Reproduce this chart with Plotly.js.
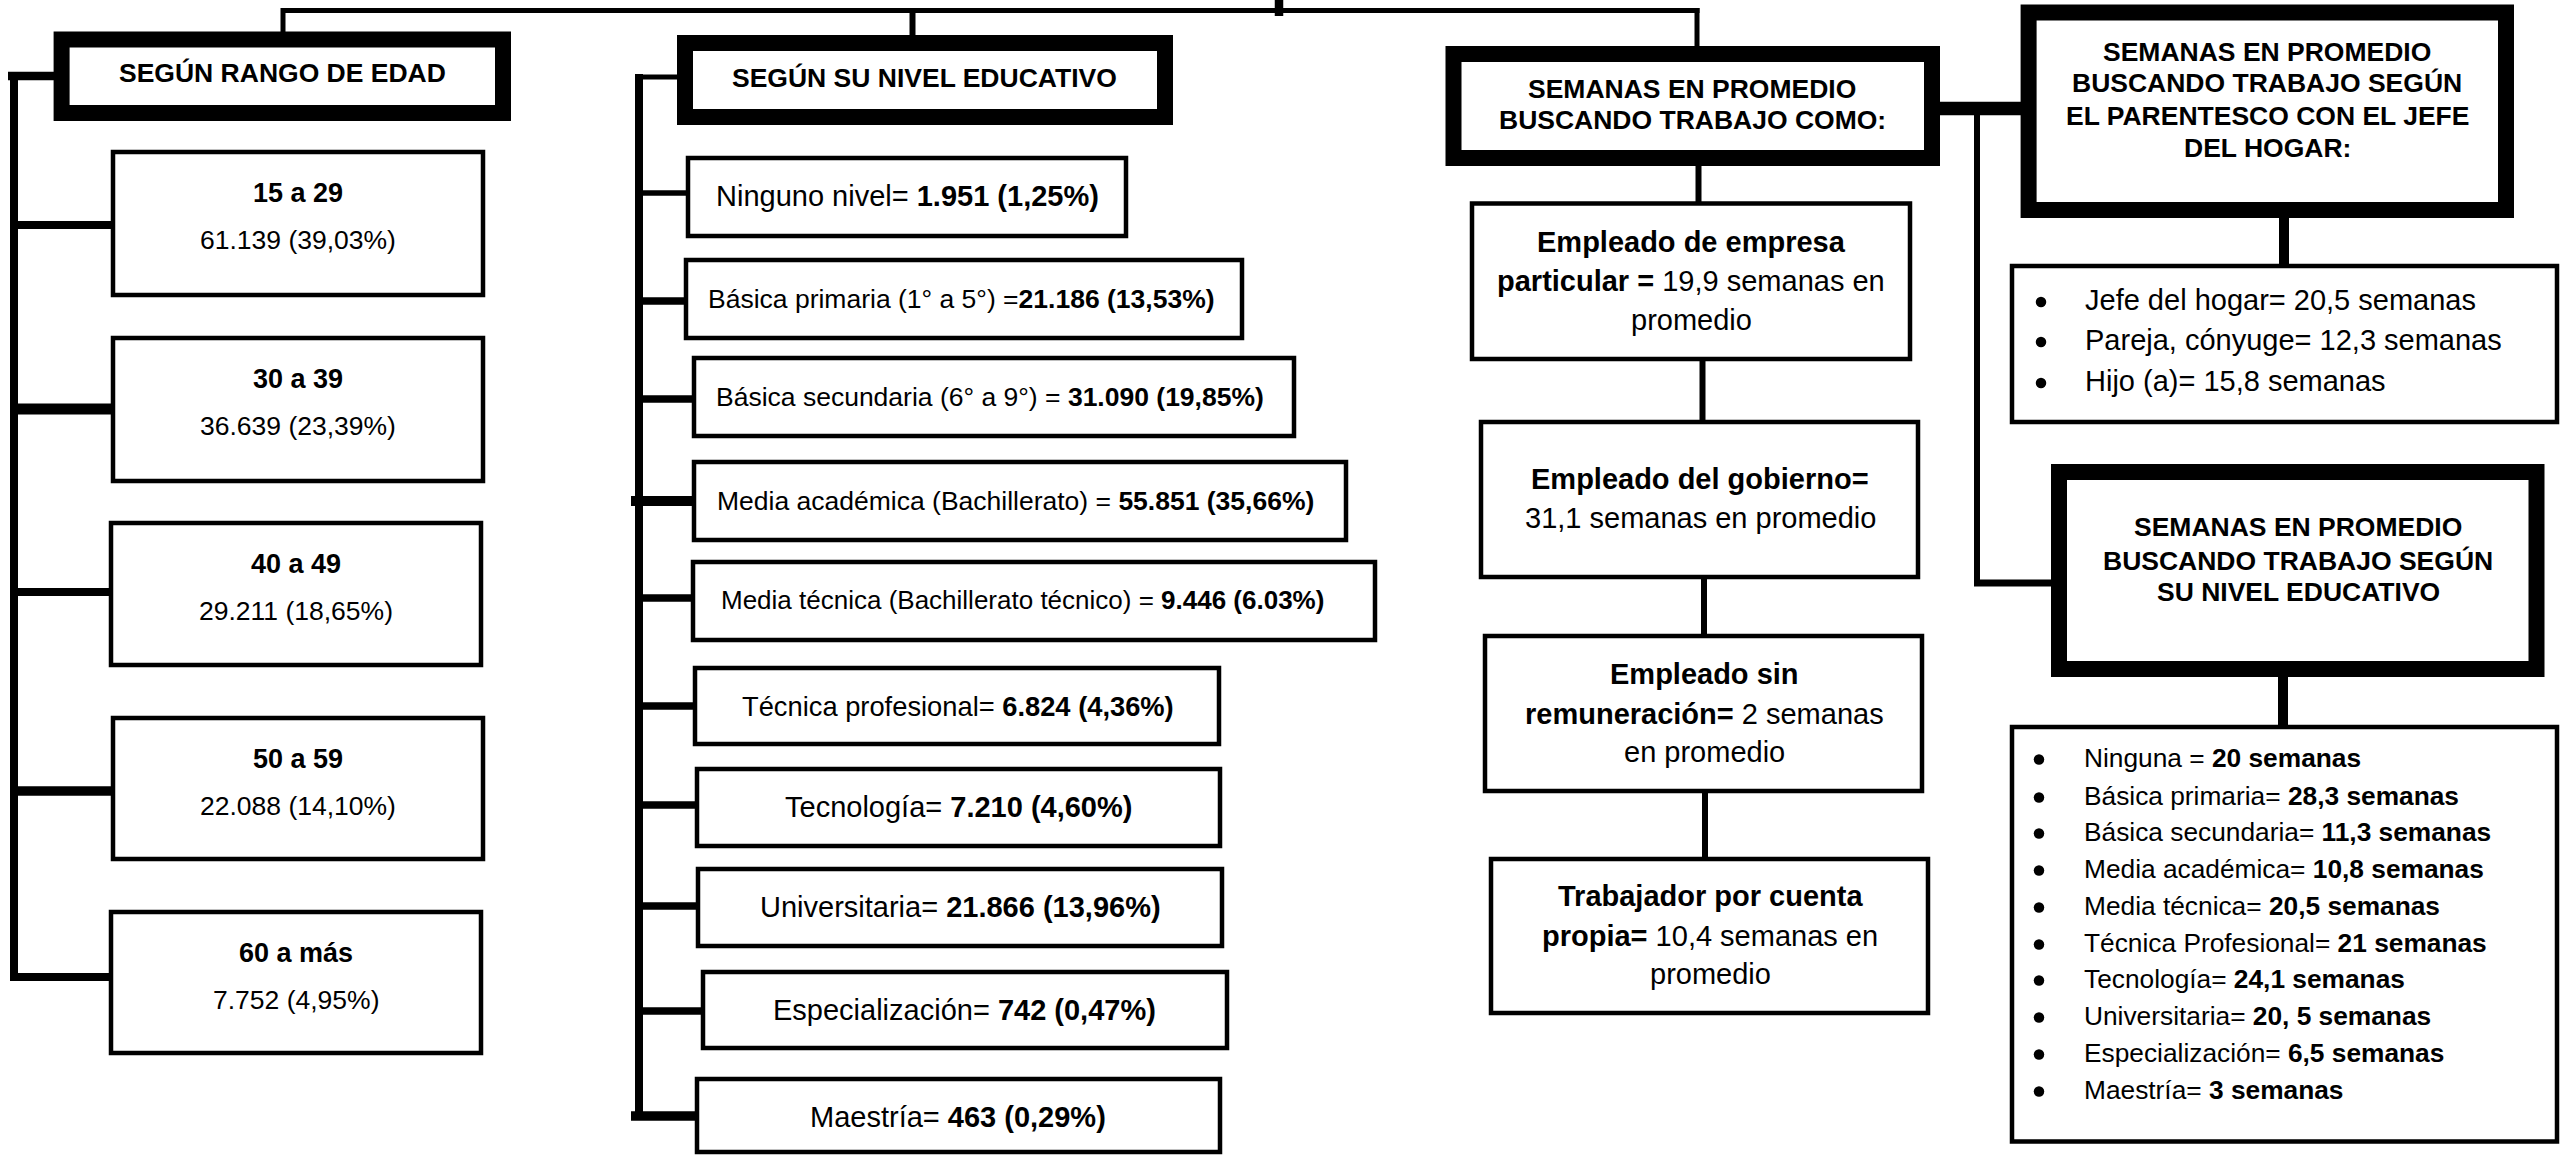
<!DOCTYPE html>
<html>
<head>
<meta charset="utf-8">
<script src="https://cdn.plot.ly/plotly-3.0.1.min.js"></script>
<style>
  html, body { margin: 0; padding: 0; background: #fff; }
  #chart { width: 2561px; height: 1156px; }
</style>
</head>
<body>
<div id="chart"></div>
<script>
// ---------------- DATA ----------------
const ageHeader = 'SEGÚN RANGO DE EDAD';
const ageRanges = ['15 a 29', '30 a 39', '40 a 49', '50 a 59', '60 a más'];
const ageCounts = ['61.139', '36.639', '29.211', '22.088', '7.752'];
const agePcts = ['39,03%', '23,39%', '18,65%', '14,10%', '4,95%'];

const eduHeader = 'SEGÚN SU NIVEL EDUCATIVO';
const eduLabels = ['Ninguno nivel= ', 'Básica primaria (1° a 5°) =', 'Básica secundaria (6° a 9°) = ',
  'Media académica (Bachillerato) = ', 'Media técnica (Bachillerato técnico) = ', 'Técnica profesional= ',
  'Tecnología= ', 'Universitaria= ', 'Especialización= ', 'Maestría= '];
const eduCounts = ['1.951', '21.186', '31.090', '55.851', '9.446', '6.824', '7.210', '21.866', '742', '463'];
const eduPcts = ['1,25%', '13,53%', '19,85%', '35,66%', '6.03%', '4,36%', '4,60%', '13,96%', '0,47%', '0,29%'];

const jobHeader = ['SEMANAS EN PROMEDIO', 'BUSCANDO TRABAJO COMO:'];
const jobWeeks = ['19,9', '31,1', '2', '10,4'];

const kinHeader = ['SEMANAS EN PROMEDIO', 'BUSCANDO TRABAJO SEGÚN', 'EL PARENTESCO CON EL JEFE', 'DEL HOGAR:'];
const kinLabels = ['Jefe del hogar= ', 'Pareja, cónyuge= ', 'Hijo (a)= '];
const kinWeeks = ['20,5', '12,3', '15,8'];

const wkEduHeader = ['SEMANAS EN PROMEDIO', 'BUSCANDO TRABAJO SEGÚN', 'SU NIVEL EDUCATIVO'];
const wkEduLabels = ['Ninguna = ', 'Básica primaria= ', 'Básica secundaria= ', 'Media académica= ',
  'Media técnica= ', 'Técnica Profesional= ', 'Tecnología= ', 'Universitaria= ', 'Especialización= ', 'Maestría= '];
const wkEduWeeks = ['20', '28,3', '11,3', '10,8', '20,5', '21', '24,1', '20, 5', '6,5', '3'];

// ---------------- LAYOUT GEOMETRY ----------------
const FONT = 'Liberation Sans, Arial, Helvetica, sans-serif';
const shapes = [];
const annotations = [];
function rect(x0, y0, x1, y1, w) {
  shapes.push({type: 'rect', xref: 'x', yref: 'y', x0, y0, x1, y1,
    line: {color: '#000', width: w}, fillcolor: 'rgba(255,255,255,0)'});
}
function seg(x0, y0, x1, y1, w) {
  shapes.push({type: 'line', xref: 'x', yref: 'y', x0, y0, x1, y1, line: {color: '#000', width: w}});
}
function txt(x, y, text, size, anchor) {
  annotations.push({x, y, xref: 'x', yref: 'y', text, showarrow: false,
    xanchor: anchor || 'center', yanchor: 'middle', align: anchor || 'center',
    font: {family: FONT, size, color: '#000'}});
}
const bulletX = [], bulletY = [];

// top connector line
seg(281, 10.5, 1699.5, 10.5, 5);
seg(1279, 0, 1279, 16, 8.5);
seg(283, 8, 283, 32, 5);
seg(912.5, 8, 912.5, 36, 6);
seg(1697, 8, 1697, 47, 5);

// ---- Age column ----
rect(61.6, 39.4, 503, 113, 16);
txt(282, 73, '<b>' + ageHeader + '</b>', 26.5);
seg(8, 76, 54, 76, 8.5);
seg(14, 72, 14, 981, 8);
const ageBox = [[113, 483, 152, 295], [113, 483, 338, 481], [111, 481, 523, 665], [113, 483, 718, 859], [111, 481, 912, 1053]];
const ageConn = [225, 409, 592, 791, 977];
const ageConnW = [8, 11, 8, 9.5, 8];
ageRanges.forEach((r, i) => {
  const b = ageBox[i];
  rect(b[0], b[2], b[1], b[3], 4.5);
  seg(10, ageConn[i], b[0], ageConn[i], ageConnW[i]);
  const cx = (b[0] + b[1]) / 2;
  txt(cx, b[2] + 41, '<b>' + r + '</b>', 27);
  txt(cx, b[2] + 88, ageCounts[i] + ' (' + agePcts[i] + ')', 26.5);
});

// ---- Education column ----
rect(685, 43, 1165, 117, 16);
txt(924, 78, '<b>' + eduHeader + '</b>', 26.5);
seg(639, 77, 677, 77, 5);
seg(639, 74, 639, 1120, 8);
const eduBox = [[688, 1126, 158, 236], [686, 1242, 260, 338], [694, 1294, 358, 436], [694, 1346, 462, 540],
  [693, 1375, 562, 640], [695, 1219, 668, 744], [697, 1220, 769, 846], [698, 1222, 869, 946],
  [703, 1227, 972, 1048], [697, 1220, 1079, 1152]];
const eduConn = [193, 301, 399, 501, 598, 706, 805, 906, 1011, 1116];
const eduConnW = [5.5, 7.5, 7.5, 10, 7.5, 7.5, 7.5, 7.5, 7.5, 9.5];
const eduTextX = [907, 961, 990, 1015, 1022, 958, 958, 960, 964, 958];
const eduTextY = [196, 299, 397, 501, 600, 706, 807, 907, 1010, 1117];
const eduFont = [29, 26.5, 26.5, 26.5, 26, 27.3, 29, 29, 29, 29];
eduLabels.forEach((lab, i) => {
  const b = eduBox[i];
  rect(b[0], b[2], b[1], b[3], 4.5);
  seg((i === 3 || i === 9) ? 631 : 635, eduConn[i], b[0], eduConn[i], eduConnW[i]);
  txt(eduTextX[i], eduTextY[i], lab + '<b>' + eduCounts[i] + ' (' + eduPcts[i] + ')</b>', eduFont[i]);
});

// ---- Job-type column ----
rect(1453.5, 54, 1932, 158, 16);
txt(1692, 89, '<b>' + jobHeader[0] + '</b>', 26.5);
txt(1692, 120, '<b>' + jobHeader[1] + '</b>', 26.5);
const jobBox = [[1472, 1910, 203.5, 359], [1481, 1918, 422, 577], [1485, 1922, 636, 791], [1491, 1928, 859, 1013]];
const jobCx = [1691, 1700, 1704, 1710];
const jobLineY = [[242, 281, 320], [479, 518], [674, 714, 752], [896, 936, 974]];
const jobLines = [
  ['<b>Empleado de empresa</b>', '<b>particular =</b> ' + jobWeeks[0] + ' semanas en', 'promedio'],
  ['<b>Empleado del gobierno=</b>', jobWeeks[1] + ' semanas en promedio'],
  ['<b>Empleado sin</b>', '<b>remuneración=</b> ' + jobWeeks[2] + ' semanas', 'en promedio'],
  ['<b>Trabajador por cuenta</b>', '<b>propia=</b> ' + jobWeeks[3] + ' semanas en', 'promedio']
];
seg(1698.5, 158, 1698.5, 204, 6);
seg(1702.5, 359, 1702.5, 422, 6);
seg(1704, 577, 1704, 636, 6);
seg(1705, 791, 1705, 859, 6);
jobBox.forEach((b, i) => {
  rect(b[0], b[2], b[1], b[3], 4.5);
  jobLines[i].forEach((l, j) => txt(jobCx[i], jobLineY[i][j], l, 29));
});

// ---- Right column ----
seg(1932, 108.5, 2029, 108.5, 13.5);
seg(1977, 108, 1977, 586, 6);
seg(1974, 583, 2060, 583, 7);

rect(2028.6, 12.4, 2506, 210, 16);
const kinHY = [52, 83, 116, 148];
kinHeader.forEach((l, j) => txt(2267, kinHY[j], '<b>' + l + '</b>', 26.5));
seg(2284, 210, 2284, 266, 10);
rect(2012, 266, 2557, 422, 4.5);
const kinY = [300, 340, 381];
kinLabels.forEach((l, j) => {
  bulletX.push(2041); bulletY.push(kinY[j] + 2);
  txt(2083, kinY[j], l + kinWeeks[j] + ' semanas', 29, 'left');
});

rect(2059, 472, 2536.5, 669, 16);
const wkHY = [527, 560.5, 592];
wkEduHeader.forEach((l, j) => txt(2298, wkHY[j], '<b>' + l + '</b>', 26.5));
seg(2283, 669, 2283, 727, 10);
rect(2012, 727, 2557, 1141.5, 4.5);
const wkY = [758, 796, 832, 869, 906, 943, 979, 1016, 1053, 1090];
wkEduLabels.forEach((l, j) => {
  bulletX.push(2039); bulletY.push(wkY[j] + 1.5);
  txt(2082, wkY[j], l + '<b>' + wkEduWeeks[j] + ' semanas</b>', 26.3, 'left');
});

const layout = {
  width: 2561, height: 1156,
  margin: {l: 0, r: 0, t: 0, b: 0, pad: 0},
  paper_bgcolor: '#fff', plot_bgcolor: '#fff',
  xaxis: {range: [0, 2561], visible: false, fixedrange: true},
  yaxis: {range: [1156, 0], visible: false, fixedrange: true},
  showlegend: false,
  shapes, annotations
};
const data = [{x: bulletX, y: bulletY, type: 'scatter', mode: 'markers',
  marker: {symbol: 'circle', size: 10.5, color: '#000'}, hoverinfo: 'skip'}];
Plotly.newPlot('chart', data, layout, {displayModeBar: false, staticPlot: true});
</script>
</body>
</html>
